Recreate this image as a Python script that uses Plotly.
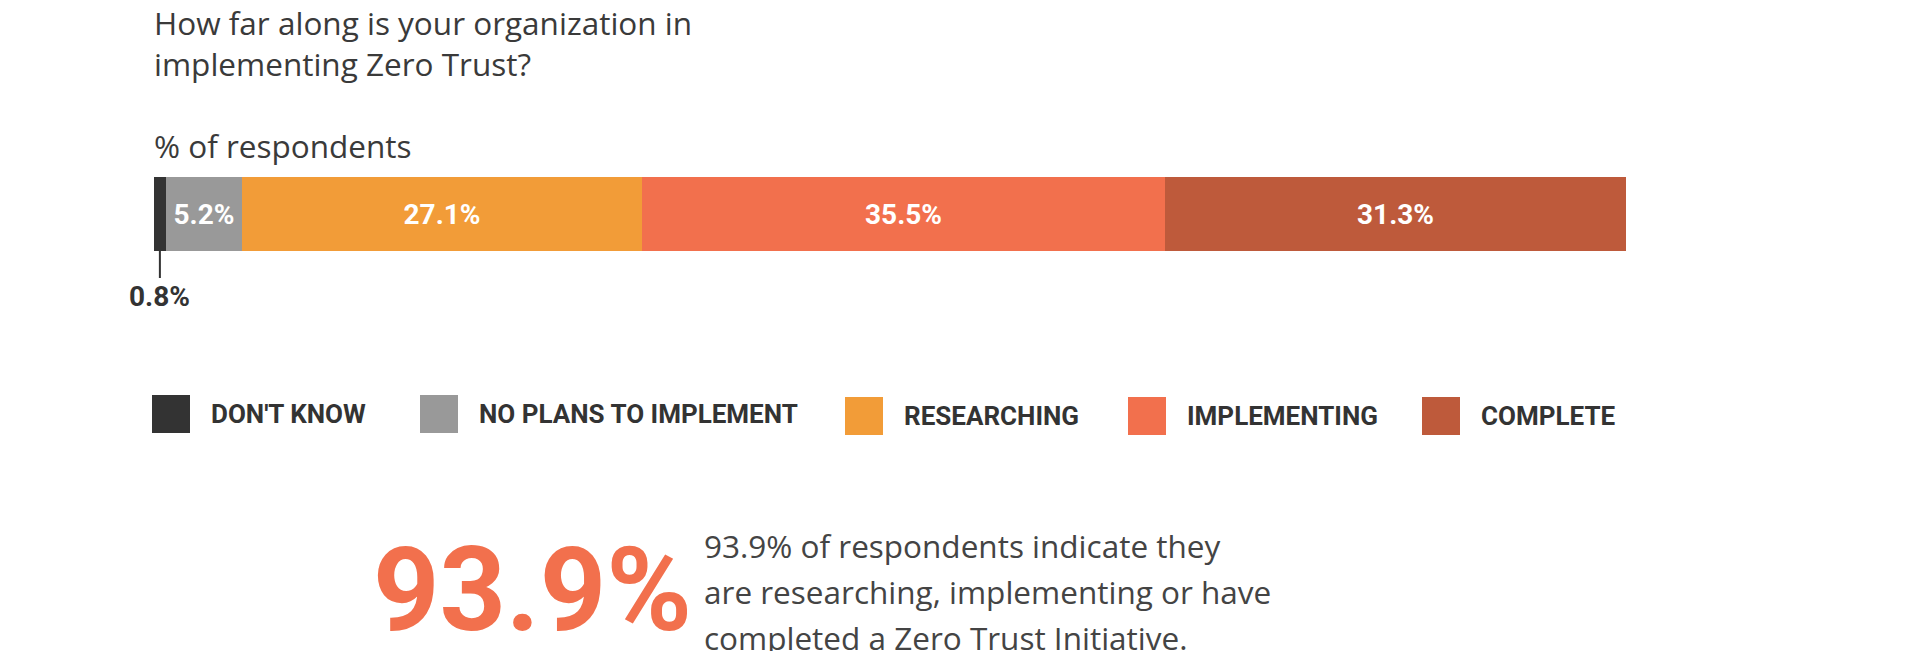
import plotly.graph_objects as go

# data
categories = ["DON'T KNOW", "NO PLANS TO IMPLEMENT", "RESEARCHING", "IMPLEMENTING", "COMPLETE"]
values = [0.8, 5.2, 27.1, 35.5, 31.3]
colors = ["#333333", "#999999", "#F29C38", "#F2704D", "#BE5A3B"]
highlight = 93.9

# page body has an 8px margin, so the figure is a bit smaller than the window
OFF = 8
W, H = 1920 - OFF, 651 - OFF
NARROW = "Roboto, Liberation Sans, sans-serif"
BODY = "Open Sans, Lato, sans-serif"


def px(x):
    return (x - OFF) / W


def py(y):
    return 1 - (y - OFF) / H


fig = go.Figure()
for name, v, c in zip(categories, values, colors):
    fig.add_trace(go.Bar(
        x=[v], y=["r"], orientation="h", name=name,
        marker=dict(color=c, line=dict(width=0)),
        text=[f"{v}%" if v > 2 else ""], textposition="inside",
        insidetextanchor="middle", constraintext="none", textangle=0,
        insidetextfont=dict(family=NARROW, size=28, color="white", weight="bold"),
        hoverinfo="skip", showlegend=False,
    ))

annotations = []
# title / subtitle
for txt, yc in [("How far along is your organization in", 23),
                ("implementing Zero Trust?", 63),
                ("% of respondents", 145)]:
    annotations.append(dict(x=px(152), y=py(yc), xref="paper", yref="paper", text=txt,
                            showarrow=False, xanchor="left", yanchor="middle",
                            font=dict(family=BODY, size=31.5, color="#3a3a3a")))

# small segment label with leader line
annotations.append(dict(x=values[0] / 2, y=-0.5, xref="x", yref="y", text=f"{values[0]}%",
                        showarrow=True, arrowhead=0, arrowwidth=2, arrowcolor="#333333",
                        ax=0, ay=45, standoff=0,
                        font=dict(family=NARROW, size=28, color="#333333", weight="bold")))

# legend
leg_sq = [152, 420, 845, 1128, 1422]
leg_dy = [0, 0, 2, 2, 2]
shapes = []
for name, c, x0, dy in zip(categories, colors, leg_sq, leg_dy):
    shapes.append(dict(type="rect", xref="paper", yref="paper", x0=px(x0), x1=px(x0 + 38),
                       y0=py(395 + dy), y1=py(433 + dy), fillcolor=c, line=dict(width=0)))
    annotations.append(dict(x=px(x0 + 57), y=py(414 + dy), xref="paper", yref="paper", text=name,
                            showarrow=False, xanchor="left", yanchor="middle",
                            font=dict(family=NARROW, size=26, color="#333333", weight="bold")))

# callout
annotations.append(dict(x=px(532), y=py(590), xref="paper", yref="paper", text=f"{highlight}%",
                        showarrow=False, xanchor="center", yanchor="middle",
                        font=dict(family=NARROW, size=116, color="#F2704D", weight="bold")))
for txt, yc in [(f"{highlight}% of respondents indicate they", 545),
                ("are researching, implementing or have", 591),
                ("completed a Zero Trust Initiative.", 637)]:
    annotations.append(dict(x=px(702), y=py(yc), xref="paper", yref="paper", text=txt,
                            showarrow=False, xanchor="left", yanchor="middle",
                            font=dict(family=BODY, size=31.5, color="#444444")))

fig.update_layout(
    width=W, height=H, barmode="stack", bargap=0,
    margin=dict(l=0, r=0, t=0, b=0),
    paper_bgcolor="white", plot_bgcolor="white",
    xaxis=dict(domain=[px(154), px(1626)], range=[0, sum(values)], visible=False, fixedrange=True),
    yaxis=dict(domain=[py(251), py(177)], range=[-0.5, 0.5], visible=False, fixedrange=True),
    annotations=annotations, shapes=shapes,
)

fig.write_html("out.html")
